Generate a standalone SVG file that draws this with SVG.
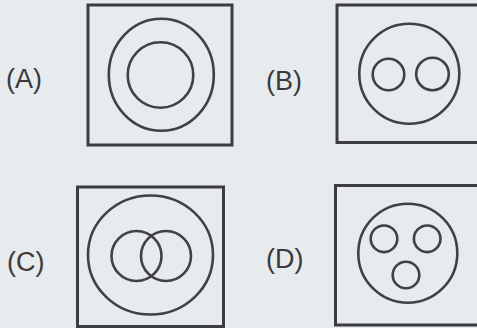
<svg xmlns="http://www.w3.org/2000/svg" width="477" height="328" viewBox="0 0 477 328">
  <style>
    .bg { fill: #e7ebee; }
    .box { fill: none; stroke: #3d3d3f; stroke-width: 3; }
    .ring { fill: none; stroke: #414043; stroke-width: 2.6; }
    .lbl { font-family: "Liberation Sans", Arial, sans-serif; font-size: 27px; fill: #3a3a3c; }
  </style>
  <rect class="bg" x="0" y="0" width="477" height="328"/>
  <g id="option-a">
    <text class="lbl" x="6" y="88">(A)</text>
    <rect class="box" x="88" y="5" width="144" height="140"/>
    <ellipse class="ring" cx="161.3" cy="74.8" rx="52.5" ry="56"/>
    <circle class="ring" cx="160.5" cy="75" r="32.8"/>
  </g>
  <g id="option-b">
    <text class="lbl" x="266" y="90">(B)</text>
    <rect class="box" x="337" y="5" width="145" height="137.5"/>
    <circle class="ring" cx="409.3" cy="73.7" r="50"/>
    <circle class="ring" cx="388.5" cy="74.5" r="15.8"/>
    <circle class="ring" cx="432.5" cy="74" r="16.3"/>
  </g>
  <g id="option-c">
    <text class="lbl" x="7" y="271">(C)</text>
    <rect class="box" x="77.5" y="187" width="146" height="139.5"/>
    <ellipse class="ring" cx="150.5" cy="255" rx="62.5" ry="59.5"/>
    <circle class="ring" cx="136.5" cy="256" r="25"/>
    <circle class="ring" cx="166" cy="256" r="25"/>
  </g>
  <g id="option-d">
    <text class="lbl" x="266" y="268">(D)</text>
    <rect class="box" x="335.5" y="185.5" width="146" height="139.5"/>
    <circle class="ring" cx="407.8" cy="253.2" r="49.5"/>
    <circle class="ring" cx="384" cy="238.8" r="13.3"/>
    <circle class="ring" cx="427.2" cy="238.8" r="13.3"/>
    <circle class="ring" cx="406" cy="275" r="13.3"/>
  </g>
  <g id="connectors"/>
</svg>
